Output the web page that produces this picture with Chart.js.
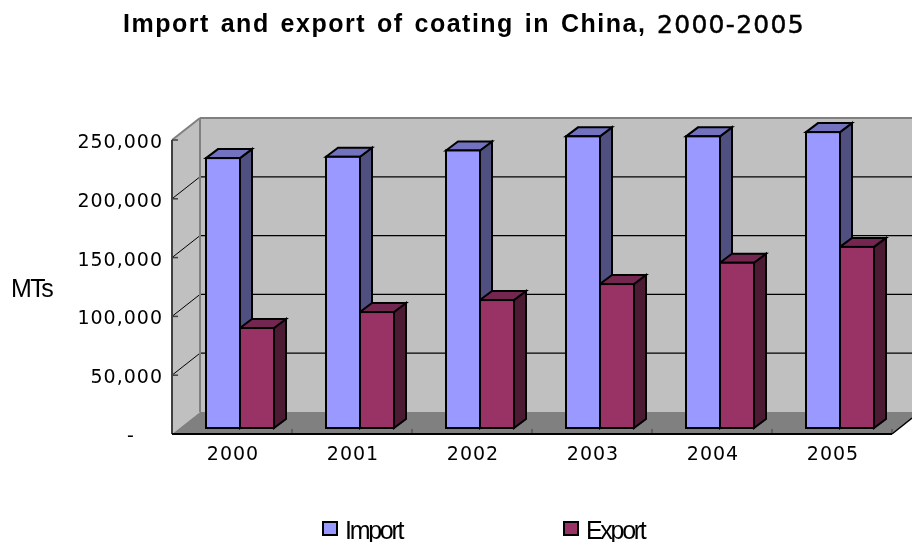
<!DOCTYPE html>
<html>
<head>
<meta charset="utf-8">
<title>Import and export of coating in China, 2000-2005</title>
<script src="https://cdn.jsdelivr.net/npm/chart.js@4"></script>
<style>
    html, body { margin: 0; padding: 0; background: #fff; overflow: hidden; }
    #wrap { width: 912px; height: 542px; position: relative; }
</style>
</head>
<body>
<div id="wrap"><canvas id="chart"></canvas></div>
<script>
// Chart data
const years = ['2000', '2001', '2002', '2003', '2004', '2005'];
const importValues = [229500, 230600, 236000, 248000, 248000, 251600];
const exportValues = [85000, 98600, 108800, 122400, 140500, 154000];
const yTicks = [0, 50000, 100000, 150000, 200000, 250000];

// Box depth offsets for the fake 3D look
const WALL_DX = 28, WALL_DY = -22;
const BAR_SHIFT_X = 8, BAR_SHIFT_Y = -6;
const BAR_DX = 12, BAR_DY = -9;

const faceColors = [
    { side: '#4f4f80', top: '#7272bf' },
    { side: '#4d1a33', top: '#732650' }
];

function poly(ctx, pts, fill, stroke, width) {
    ctx.beginPath();
    pts.forEach((p, i) => i ? ctx.lineTo(p[0], p[1]) : ctx.moveTo(p[0], p[1]));
    ctx.closePath();
    if (fill) { ctx.fillStyle = fill; ctx.fill(); }
    if (stroke) { ctx.strokeStyle = stroke; ctx.lineWidth = width; ctx.stroke(); }
}

function line(ctx, x1, y1, x2, y2, color, width) {
    ctx.beginPath();
    ctx.moveTo(x1, y1);
    ctx.lineTo(x2, y2);
    ctx.strokeStyle = color;
    ctx.lineWidth = width;
    ctx.stroke();
}

function text(ctx, str, x, y, font, spacing, words) {
    ctx.font = font;
    ctx.letterSpacing = spacing;
    ctx.wordSpacing = words || '0px';
    ctx.fillStyle = '#000';
    ctx.textAlign = 'left';
    ctx.textBaseline = 'alphabetic';
    ctx.fillText(str, x, y);
}

// Walls and floor behind the bars, gridlines from the y scale
const wallsPlugin = {
    id: 'walls',
    beforeDraw(chart) {
        chart.ctx.letterSpacing = '1px';
    },
    beforeDatasetsDraw(chart) {
        const ctx = chart.ctx;
        const { left, right, top, bottom } = chart.chartArea;
        const y = chart.scales.y;
        const x = chart.scales.x;
        const backL = left + WALL_DX, backB = bottom + WALL_DY, backT = top + WALL_DY;

        ctx.save();
        poly(ctx, [[backL, backT], [912, backT], [912, backB], [backL, backB]], '#c0c0c0');
        poly(ctx, [[left, top], [backL, backT], [backL, backB], [left, bottom]], '#c0c0c0');
        poly(ctx, [[left, bottom], [backL, backB], [912, backB], [912, bottom - 16], [right, bottom]], '#808080');

        yTicks.slice(1).forEach(v => {
            const py = y.getPixelForValue(v);
            if (v < yTicks[yTicks.length - 1]) {
                line(ctx, left, py, backL, py + WALL_DY, '#000', 1);
                line(ctx, backL, py + WALL_DY, 912, py + WALL_DY, '#000', 1.2);
            }
        });
        line(ctx, left, top, backL, backT, '#808080', 2);
        line(ctx, backL, backT, 912, backT, '#808080', 2);
        line(ctx, backL, backT, backL, backB, '#808080', 2);

        // axes with inward ticks
        yTicks.forEach(v => {
            const py = y.getPixelForValue(v);
            line(ctx, left, py, left + 6, py, '#404040', 1.5);
        });
        line(ctx, left, top, left, bottom, '#404040', 2);
        years.forEach((yr, i) => {
            const px = x.getPixelForTick(i) + (x.getPixelForTick(1) - x.getPixelForTick(0)) / 2;
            line(ctx, px, bottom, px, bottom - 5, '#404040', 1);
        });
        line(ctx, left, bottom, right, bottom, '#000', 2);
        line(ctx, right, bottom, 912, bottom - 16, '#000', 1.5);
        ctx.restore();

        // bars sit in the middle of the floor, shift them off the front edge
        ctx.save();
        ctx.translate(BAR_SHIFT_X, BAR_SHIFT_Y);
        chart.data.datasets.forEach((ds, d) => {
            chart.getDatasetMeta(d).data.forEach(bar => {
                const l = bar.x - bar.width / 2, r = bar.x + bar.width / 2;
                poly(ctx, [[r, bar.y], [r + BAR_DX, bar.y + BAR_DY], [r + BAR_DX, bar.base + BAR_DY], [r, bar.base]],
                    faceColors[d].side, '#000', 2);
                poly(ctx, [[l, bar.y], [l + BAR_DX, bar.y + BAR_DY], [r + BAR_DX, bar.y + BAR_DY], [r, bar.y]],
                    faceColors[d].top, '#000', 2);
            });
        });
    },
    afterDatasetsDraw(chart) {
        const ctx = chart.ctx;
        chart.data.datasets.forEach((ds, d) => {
            chart.getDatasetMeta(d).data.forEach(bar => {
                ctx.strokeStyle = '#000';
                ctx.lineWidth = 2;
                ctx.strokeRect(bar.x - bar.width / 2, bar.y, bar.width, bar.base - bar.y);
            });
        });
        ctx.restore();
    },
    afterDraw(chart) {
        const ctx = chart.ctx;
        ctx.save();
        text(ctx, 'Import and export of coating in China,', 123, 32, 'bold 25px "Liberation Sans"', '1.5px', '2.5px');
        text(ctx, '2000-2005', 657, 33, '25px "DejaVu Sans"', '1.3px');
        // the title digits are a bit heavier than the regular weight
        ctx.strokeStyle = '#000';
        ctx.lineWidth = 0.5;
        ctx.strokeText('2000-2005', 657, 33);
        text(ctx, 'MTs', 11, 297, '25px "Liberation Sans"', '-1.5px');

        // legend
        chart.data.datasets.forEach((ds, d) => {
            const bx = [323, 564][d];
            ctx.fillStyle = ds.backgroundColor;
            ctx.fillRect(bx, 522, 14, 13);
            ctx.strokeStyle = '#000';
            ctx.lineWidth = 2;
            ctx.strokeRect(bx, 522, 14, 13);
            text(ctx, ds.label, bx + 22, 539, '25px "Liberation Sans"', '-2.3px');
        });
        ctx.restore();
    }
};

function initChart() {
    const ctx = document.getElementById('chart').getContext('2d');
    new Chart(ctx, {
        type: 'bar',
        data: {
            labels: years,
            datasets: [
                { label: 'Import', data: importValues, backgroundColor: '#9999ff', borderWidth: 0, clip: false },
                { label: 'Export', data: exportValues, backgroundColor: '#993366', borderWidth: 0, clip: false }
            ]
        },
        options: {
            responsive: true,
            maintainAspectRatio: false,
            animation: false,
            layout: { padding: { top: 140, right: 20, left: 0, bottom: 0 } },
            datasets: { bar: { barThickness: 34 } },
            plugins: { legend: { display: false }, title: { display: false }, tooltip: { enabled: false } },
            scales: {
                x: {
                    grid: { display: false, drawTicks: false },
                    border: { display: false },
                    afterFit: s => { s.height = 108; },
                    ticks: { color: '#000', font: { family: 'DejaVu Sans', size: 19 }, padding: 10, labelOffset: 1, maxRotation: 0 }
                },
                y: {
                    min: 0,
                    max: 250000,
                    afterFit: s => { s.width = 172; },
                    grid: { display: false, drawTicks: false },
                    border: { display: false },
                    afterBuildTicks: s => { s.ticks = yTicks.map(v => ({ value: v })); },
                    ticks: {
                        color: '#000',
                        font: { family: 'DejaVu Sans', size: 19 },
                        padding: 9,
                        labelOffset: 3,
                        // the zero label sits further left, as in the accounting number format
                        callback: v => v === 0 ? '-    ' : v.toLocaleString('en-US')
                    }
                }
            }
        },
        plugins: [wallsPlugin]
    });
}

initChart();
</script>
</body>
</html>
